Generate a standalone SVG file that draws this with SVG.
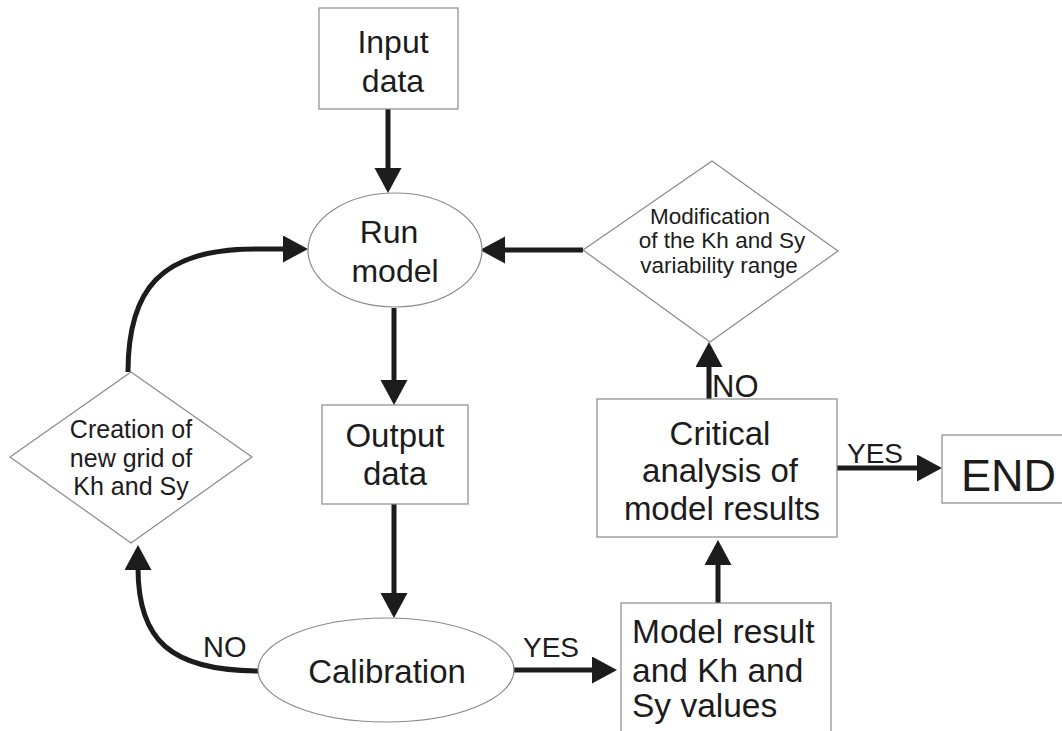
<svg xmlns="http://www.w3.org/2000/svg" width="1062" height="731" viewBox="0 0 1062 731">
<style>
.box{fill:#fff;stroke:#8a8a8a;stroke-width:1.2}
.t{font-family:"Liberation Sans",Arial,sans-serif;fill:#1c1c1c}
.c{text-anchor:middle}
.ln{fill:none;stroke:#1c1c1c;stroke-width:5;marker-end:url(#ah)}
</style>
<defs>
<marker id="ah" markerUnits="userSpaceOnUse" markerWidth="26" markerHeight="28" refX="2" refY="13.5" orient="auto" viewBox="0 0 26 28">
<path d="M0,0 L25,13.5 L0,27 z" fill="#1c1c1c"/>
</marker>
</defs>
<rect width="1062" height="731" fill="#fff"/>

<g id="connectors">
<path class="ln" d="M388,109 L388,170"/>
<path class="ln" d="M394,308 L394,382"/>
<path class="ln" d="M394,504 L394,595"/>
<path class="ln" d="M513,670 L594,670"/>
<path class="ln" d="M718,603 L718,563"/>
<path class="ln" d="M837,468 L919,468"/>
<path class="ln" d="M709,399 L709,365"/>
<path class="ln" d="M583,250 L503,250"/>
<path class="ln" d="M128,372 C128,290 160,249 255,249 L285,249"/>
<path class="ln" d="M260,671 C170,671 138,640 138,568"/>
<text class="t" x="523" y="657" font-size="28">YES</text>
<text class="t" x="847" y="463" font-size="28">YES</text>
<text class="t" x="712" y="397" font-size="31">NO</text>
<text class="t" x="203" y="657" font-size="29">NO</text>
</g>

<g id="input-data">
<rect class="box" x="319" y="8" width="139" height="101"/>
<text class="t c" x="393" y="53" font-size="32">Input</text>
<text class="t c" x="393" y="92" font-size="32">data</text>
</g>

<g id="run-model">
<ellipse class="box" cx="395" cy="250" rx="87" ry="57"/>
<text class="t c" x="389" y="243" font-size="32">Run</text>
<text class="t c" x="395" y="282" font-size="32">model</text>
</g>

<g id="modification">
<polygon class="box" points="712,161 838,251 710,342 583,250"/>
<text class="t c" x="710" y="224" font-size="22.5">Modification</text>
<text class="t c" x="722" y="248" font-size="22.5">of the Kh and Sy</text>
<text class="t c" x="719" y="273" font-size="22.5">variability range</text>
</g>

<g id="creation">
<polygon class="box" points="131,372 252,457 131,543 10,457"/>
<text class="t c" x="131" y="438" font-size="25">Creation of</text>
<text class="t c" x="131" y="467" font-size="25">new grid of</text>
<text class="t c" x="131" y="495" font-size="25">Kh and Sy</text>
</g>

<g id="output-data">
<rect class="box" x="322" y="405" width="146" height="99"/>
<text class="t c" x="395" y="447" font-size="33">Output</text>
<text class="t c" x="395" y="485" font-size="33">data</text>
</g>

<g id="calibration">
<ellipse class="box" cx="386" cy="670" rx="128" ry="52"/>
<text class="t c" x="387" y="683" font-size="33">Calibration</text>
</g>

<g id="critical-analysis">
<rect class="box" x="597" y="399" width="240" height="138"/>
<text class="t c" x="720" y="445" font-size="33">Critical</text>
<text class="t c" x="720" y="482" font-size="33">analysis of</text>
<text class="t c" x="722" y="520" font-size="33">model results</text>
</g>

<g id="model-result">
<rect class="box" x="621" y="603" width="210" height="140"/>
<text class="t" x="632" y="643" font-size="33.5">Model result</text>
<text class="t" x="632" y="682" font-size="33.5">and Kh and</text>
<text class="t" x="632" y="717" font-size="33.5">Sy values</text>
</g>

<g id="end">
<rect class="box" x="942" y="435" width="130" height="68"/>
<text class="t" x="961" y="491" font-size="45">END</text>
</g>
</svg>
